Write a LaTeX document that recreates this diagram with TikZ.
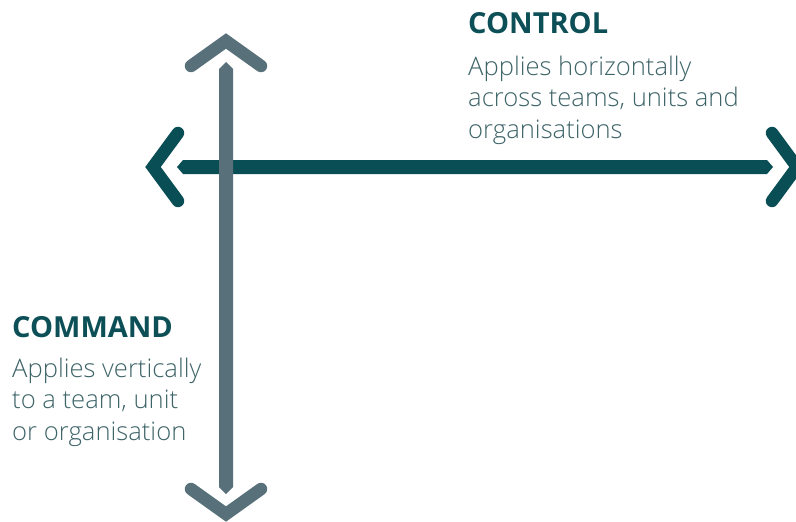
\documentclass[tikz,border=0pt]{standalone}
\usepackage{fontspec}
\setmainfont{Open Sans}[UprightFont={* Light},BoldFont={* Bold}]
\definecolor{hteal}{HTML}{0A4E55}
\definecolor{vslate}{HTML}{587079}
\definecolor{headc}{HTML}{0D4F56}
\definecolor{bodyc}{HTML}{3E6468}
\tikzset{
  chev/.style={line width=12.5pt,line cap=round,line join=miter},
  head/.style={font=\fontsize{29}{32}\selectfont\bfseries,text=headc,inner sep=0pt,anchor=base west},
  body/.style={font=\fontsize{25.6}{31.5}\selectfont,text=bodyc,inner sep=0pt,anchor=base west,align=left}
}
\begin{document}
\begin{tikzpicture}[x=1pt,y=-1pt]
\useasboundingbox (0,0) rectangle (796,522);
% horizontal arrow (control)
\fill[hteal] (177,167) -- (183,160) -- (767,160) -- (773,167) -- (767,174) -- (183,174) -- cycle;
\draw[chev,hteal] (178,133) -- (153,167) -- (178,201);
\draw[chev,hteal] (772,133) -- (797,167) -- (772,201);
% vertical arrow (command)
\fill[vslate] (226,62) -- (233,69) -- (233,487) -- (226,494) -- (219,487) -- (219,69) -- cycle;
\draw[chev,vslate] (191,66) -- (226,41) -- (261,66);
\draw[chev,vslate] (191,489) -- (226,514) -- (261,489);
% texts (base anchor of a multi-line node = baseline of its last line)
\node[head] (ctrlh) at (468,33) {CONTROL};
\node[body] (ctrlb) at (468,138) {Applies horizontally\\across teams, units and\\organisations};
\node[head] (cmdh) at (12,337) {COMMAND};
\node[body] (cmdb) at (12,440) {Applies vertically\\to a team, unit\\or organisation};
\end{tikzpicture}
\end{document}
